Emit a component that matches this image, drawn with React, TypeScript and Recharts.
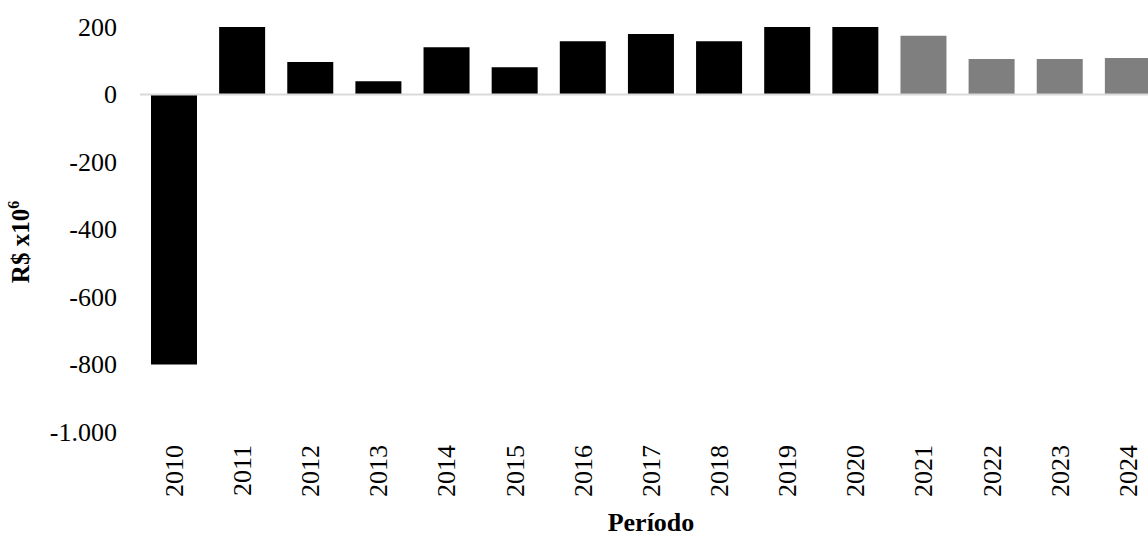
import { Bar, BarChart, Cell, ReferenceLine, XAxis, YAxis } from "recharts"

const years = ["2010", "2011", "2012", "2013", "2014", "2015", "2016", "2017", "2018", "2019", "2020", "2021", "2022", "2023", "2024"]
const values = [-800, 200, 96, 39, 140, 81, 158, 179, 158, 200, 200, 174, 105, 105, 108]
const projectedYears = ["2021", "2022", "2023", "2024"]
const yTicks = [-1000, -800, -600, -400, -200, 0, 200]

const font = "Liberation Serif"

// pt-BR style thousands separator: -1000 -> "-1.000"
const fmt = (v: number) => {
  const s = String(Math.abs(v)).replace(/\B(?=(\d{3})+(?!\d))/g, ".")
  return v < 0 ? `-${s}` : s
}

const chartData = years.map((year, i) => ({ year, value: values[i] }))

function YearTick({ x, y, payload }: any) {
  return (
    <g transform={`translate(${x},${y})`}>
      <text transform="rotate(-90)" textAnchor="end" dy="0.34em" style={{ fontSize: 26, fontFamily: font }} fill="#000">
        {payload.value}
      </text>
    </g>
  )
}

function ValueTick({ x, y, payload }: any) {
  return (
    <text x={x} y={y} textAnchor="end" dy="0.34em" style={{ fontSize: 26, fontFamily: font }} fill="#000">
      {fmt(payload.value)}
    </text>
  )
}

export default function App() {
  return (
    <div style={{ position: "fixed", left: 0, top: 0, width: 1148, height: 536, overflow: "hidden", background: "#fff", fontFamily: font }}>
      <BarChart width={1162} height={536} data={chartData} margin={{ top: 27, right: 0, bottom: 0, left: 0 }}>
        <XAxis
          dataKey="year"
          axisLine={false}
          tickLine={false}
          tickSize={0}
          tickMargin={13}
          height={104}
          interval={0}
          tick={<YearTick />}
          label={{
            content: () => (
              <text x={651} y={531} textAnchor="middle" style={{ fontSize: 26, fontWeight: "bold", fontFamily: font }} fill="#000">
                Período
              </text>
            ),
          }}
        />
        <YAxis
          width={140}
          domain={[-1000, 200]}
          ticks={yTicks}
          axisLine={false}
          tickLine={false}
          tickSize={0}
          tickMargin={23}
          tick={<ValueTick />}
          label={{
            content: () => (
              <text transform="translate(29,242) rotate(-90)" textAnchor="middle" style={{ fontSize: 25, fontWeight: "bold", fontFamily: font }} fill="#000">
                R$ x10<tspan style={{ fontSize: 16 }} dy={-10}>6</tspan>
              </text>
            ),
          }}
        />
        <ReferenceLine y={0} stroke="#d9d9d9" strokeWidth={2} />
        <Bar dataKey="value" barSize={46} isAnimationActive={false}>
          {chartData.map((d) => (
            <Cell key={d.year} fill={projectedYears.includes(d.year) ? "#7f7f7f" : "#000000"} />
          ))}
        </Bar>
      </BarChart>
    </div>
  )
}
